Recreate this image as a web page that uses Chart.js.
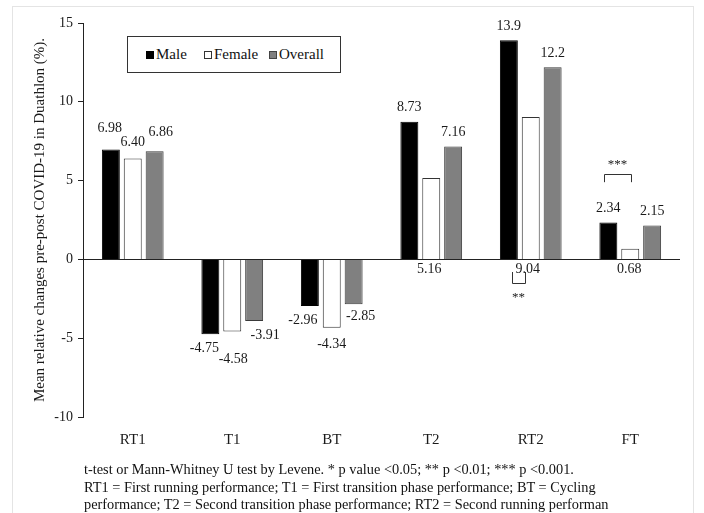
<!DOCTYPE html>
<html>
<head>
<meta charset="utf-8">
<script src="https://cdn.jsdelivr.net/npm/chart.js@4.4.0/dist/chart.umd.min.js"></script>
<style>
  html, body { margin:0; padding:0; background:#fff; }
  #wrap { position:relative; width:704px; height:513px; overflow:hidden; background:#fff; }
  #frame { position:absolute; left:12px; top:6px; width:682px; height:520px; border:1px solid #e4e4e4; box-sizing:border-box; }
  #c { position:absolute; left:0; top:0; }
  #legend { position:absolute; left:127px; top:36px; width:214px; height:37px; border:1px solid #333; box-sizing:border-box; background:#fff;
            font-family:"Liberation Serif", "Times New Roman", serif; font-size:15px; color:#111; }
  #legend .it { position:absolute; top:9px; line-height:17px; white-space:nowrap; }
  #legend .sw { display:inline-block; width:8px; height:8px; box-sizing:border-box; margin-right:2px; vertical-align:0px; }
  #note { position:absolute; left:84px; top:461px; font-family:"Liberation Serif", "Times New Roman", serif; font-size:14.35px; line-height:17.5px; color:#111; white-space:nowrap; }
</style>
</head>
<body>
<div id="wrap">
  <div id="frame"></div>
  <canvas id="c" width="704" height="513"></canvas>
  <div id="legend">
    <div class="it" style="left:18px"><span class="sw" style="background:#000;border:1px solid #000"></span>Male</div>
    <div class="it" style="left:76px"><span class="sw" style="background:#fff;border:1px solid #333"></span>Female</div>
    <div class="it" style="left:141px"><span class="sw" style="background:#808080;border:1px solid #444"></span>Overall</div>
  </div>
  <div id="note">t-test or Mann-Whitney U test by Levene. * p value &lt;0.05; ** p &lt;0.01; *** p &lt;0.001.<br>RT1 = First running performance; T1 = First transition phase performance; BT = Cycling<br>performance; T2 = Second transition phase performance; RT2 = Second running performan</div>
</div>
<script>
// ---- data ----
const categories = ["RT1", "T1", "BT", "T2", "RT2", "FT"];
const maleValues = [6.98, -4.75, -2.96, 8.73, 13.9, 2.34];
const femaleValues = [6.40, -4.58, -4.34, 5.16, 9.04, 0.68];
const overallValues = [6.86, -3.91, -2.85, 7.16, 12.2, 2.15];
const maleLabels = ["6.98", "-4.75", "-2.96", "8.73", "13.9", "2.34"];
const femaleLabels = ["6.40", "-4.58", "-4.34", "5.16", "9.04", "0.68"];
const overallLabels = ["6.86", "-3.91", "-2.85", "7.16", "12.2", "2.15"];
const yTicks = [-10, -5, 0, 5, 10, 15];
const significance = [
  { category: "RT2", stars: "**" },
  { category: "FT", stars: "***" }
];

const serif = '"Liberation Serif", "Times New Roman", serif';
const textColor = '#1a1a1a';

// label placement tweaks (pixels), per dataset then per category
const labelTweak = [
  [[-1,-7],[-6,0],[-7,0],[0,0],[0,0],[0,0]],
  [[0,-2],[1,14],[0,3],['axis',-2],['axis',-3],['axis',-1]],
  [[6,-5],[11,0],[7,-2],[0,0],[0,0],[0,0]]
];

const labelPlugin = {
  id: 'valueLabels',
  afterDatasetsDraw(chart) {
    const ctx = chart.ctx;
    const y0 = chart.scales.y.getPixelForValue(0);
    const allLabels = [maleLabels, femaleLabels, overallLabels];
    ctx.save();
    ctx.font = '14px ' + serif;
    ctx.fillStyle = textColor;
    ctx.textAlign = 'center';
    ctx.textBaseline = 'middle';
    chart.data.datasets.forEach((ds, di) => {
      const meta = chart.getDatasetMeta(di);
      meta.data.forEach((bar, i) => {
        const v = ds.data[i];
        const tw = labelTweak[di][i];
        let x = bar.x, y;
        if (tw[0] === 'axis') {
          y = y0 + 10;
          x += tw[1];
        } else {
          if (v >= 0) y = bar.y - 14; else y = bar.y + 14;
          x += tw[0];
          y += tw[1];
        }
        ctx.fillText(allLabels[di][i], x, y);
      });
    });

    // significance brackets
    const ys = chart.scales.y;
    ctx.strokeStyle = '#333';
    ctx.lineWidth = 1;
    significance.forEach(s => {
      const idx = categories.indexOf(s.category);
      const m = chart.getDatasetMeta(0).data[idx];
      const f = chart.getDatasetMeta(1).data[idx];
      ctx.font = '13px ' + serif;
      if (s.category === 'FT') {
        const xa = Math.round(m.x - 4), xb = Math.round(f.x + 1);
        const top = Math.round(ys.getPixelForValue(5.4)), bot = ys.getPixelForValue(4.9);
        ctx.beginPath();
        ctx.moveTo(xa + 0.5, bot); ctx.lineTo(xa + 0.5, top + 0.5); ctx.lineTo(xb + 0.5, top + 0.5); ctx.lineTo(xb + 0.5, bot);
        ctx.stroke();
        ctx.fillText(s.stars, (xa + xb) / 2, ys.getPixelForValue(6.0));
      } else {
        const xa = Math.round(m.x + 3), xb = Math.round(f.x - 6);
        const top = ys.getPixelForValue(-0.8), bot = Math.round(ys.getPixelForValue(-1.5));
        ctx.beginPath();
        ctx.moveTo(xa + 0.5, top); ctx.lineTo(xa + 0.5, bot + 0.5); ctx.lineTo(xb + 0.5, bot + 0.5); ctx.lineTo(xb + 0.5, top);
        ctx.stroke();
        ctx.fillText(s.stars, (xa + xb) / 2, ys.getPixelForValue(-2.4));
      }
    });
    ctx.restore();
  }
};

new Chart(document.getElementById('c'), {
  type: 'bar',
  data: {
    labels: categories,
    datasets: [
      { label: 'Male', data: maleValues, backgroundColor: '#000', borderColor: '#000', borderWidth: 1 },
      { label: 'Female', data: femaleValues, backgroundColor: '#fff', borderColor: '#333', borderWidth: 1 },
      { label: 'Overall', data: overallValues, backgroundColor: '#808080', borderColor: '#3a3a3a', borderWidth: 1 }
    ]
  },
  options: {
    responsive: false,
    animation: false,
    devicePixelRatio: 1,
    categoryPercentage: 0.66,
    barPercentage: 0.82,
    layout: { padding: { left: 0, right: 24, top: 23, bottom: 0 } },
    plugins: { legend: { display: false }, tooltip: { enabled: false } },
    scales: {
      x: {
        grid: { display: false },
        border: { display: false },
        ticks: { font: { family: serif, size: 15 }, color: textColor, padding: 6 },
        afterFit(s) { s.height = 96; }
      },
      y: {
        min: -10, max: 15,
        afterBuildTicks(s) { s.ticks = yTicks.map(v => ({ value: v })); },
        ticks: { font: { family: serif, size: 14 }, color: textColor, padding: 5 },
        grid: {
          drawOnChartArea: true,
          color: (c) => (c.tick && c.tick.value === 0) ? '#222' : 'rgba(0,0,0,0)',
          tickColor: '#222',
          tickLength: 5,
          lineWidth: 1
        },
        border: { display: true, color: '#222', width: 1 },
        title: {
          display: true,
          text: 'Mean relative changes pre-post COVID-19 in Duathlon (%).',
          font: { family: serif, size: 15 },
          color: textColor,
          padding: { top: 31, bottom: 0 }
        },
        afterFit(s) { s.width = 83; }
      }
    }
  },
  plugins: [labelPlugin]
});
</script>
</body>
</html>
